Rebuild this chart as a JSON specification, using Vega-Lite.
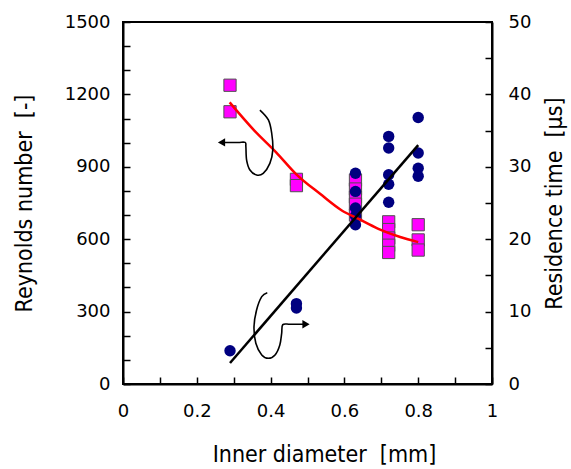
{
  "$schema": "https://vega.github.io/schema/vega-lite/v6.json",
  "width": 369,
  "height": 362,
  "autosize": {"type": "none"},
  "padding": {"left": 123, "top": 22, "right": 79, "bottom": 85},
  "background": "white",
  "config": {
    "font": "DejaVu Sans",
    "view": {"stroke": "black", "strokeWidth": 2},
    "axis": {
      "grid": false,
      "labelFlush": false,
      "domainColor": "black",
      "domainWidth": 2,
      "tickColor": "black",
      "tickWidth": 1.5,
      "tickSize": -7,
      "labelFont": "DejaVu Sans",
      "labelFontSize": 18,
      "labelColor": "black",
      "titleFont": "DejaVu Sans Condensed",
      "titleFontSize": 23,
      "titleFontWeight": "normal",
      "titleColor": "black"
    }
  },
  "datasets": {
    "re": [
      {"d": 0.29, "v": 1238}, {"d": 0.29, "v": 1128},
      {"d": 0.47, "v": 848}, {"d": 0.47, "v": 822},
      {"d": 0.63, "v": 845}, {"d": 0.63, "v": 808}, {"d": 0.63, "v": 775}, {"d": 0.63, "v": 745}, {"d": 0.63, "v": 700},
      {"d": 0.72, "v": 672}, {"d": 0.72, "v": 640}, {"d": 0.72, "v": 605}, {"d": 0.72, "v": 575}, {"d": 0.72, "v": 545},
      {"d": 0.80, "v": 660}, {"d": 0.80, "v": 597}, {"d": 0.80, "v": 555}
    ],
    "rt": [
      {"d": 0.29, "v": 4.6},
      {"d": 0.47, "v": 11.1}, {"d": 0.47, "v": 10.5},
      {"d": 0.63, "v": 29.1}, {"d": 0.63, "v": 26.6}, {"d": 0.63, "v": 24.3}, {"d": 0.63, "v": 23.2}, {"d": 0.63, "v": 22.0},
      {"d": 0.72, "v": 34.2}, {"d": 0.72, "v": 32.6}, {"d": 0.72, "v": 28.9}, {"d": 0.72, "v": 27.6}, {"d": 0.72, "v": 25.1},
      {"d": 0.80, "v": 36.8}, {"d": 0.80, "v": 31.9}, {"d": 0.80, "v": 29.8}, {"d": 0.80, "v": 28.7}
    ],
    "refit": [
      {"d": 0.289, "v": 1167}, {"d": 0.356, "v": 1050}, {"d": 0.415, "v": 960}, {"d": 0.469, "v": 870},
      {"d": 0.534, "v": 788}, {"d": 0.593, "v": 719}, {"d": 0.637, "v": 685}, {"d": 0.692, "v": 643},
      {"d": 0.751, "v": 609}, {"d": 0.800, "v": 588}
    ],
    "rtfit": [
      {"d": 0.29, "v": 2.9}, {"d": 0.80, "v": 33.0}
    ],
    "arrowL": [
      {"i": 0, "d": 0.371, "v": 1135}, {"i": 1, "d": 0.394, "v": 1094}, {"i": 2, "d": 0.403, "v": 1039},
      {"i": 3, "d": 0.406, "v": 970}, {"i": 4, "d": 0.398, "v": 914}, {"i": 5, "d": 0.380, "v": 873},
      {"i": 6, "d": 0.362, "v": 866}, {"i": 7, "d": 0.344, "v": 887}, {"i": 8, "d": 0.335, "v": 928},
      {"i": 9, "d": 0.333, "v": 983}, {"i": 10, "d": 0.331, "v": 1001}, {"i": 11, "d": 0.312, "v": 1001},
      {"i": 12, "d": 0.276, "v": 1001}
    ],
    "headL": [{"d": 0.267, "v": 1001}],
    "arrowR": [
      {"i": 0, "d": 0.391, "v": 12.61}, {"i": 1, "d": 0.376, "v": 12.06}, {"i": 2, "d": 0.362, "v": 10.22},
      {"i": 3, "d": 0.355, "v": 7.91}, {"i": 4, "d": 0.360, "v": 5.62}, {"i": 5, "d": 0.376, "v": 4.01},
      {"i": 6, "d": 0.394, "v": 3.55}, {"i": 7, "d": 0.412, "v": 4.01}, {"i": 8, "d": 0.425, "v": 5.39},
      {"i": 9, "d": 0.430, "v": 7.0}, {"i": 10, "d": 0.433, "v": 8.2}, {"i": 11, "d": 0.453, "v": 8.25},
      {"i": 12, "d": 0.489, "v": 8.25}
    ],
    "headR": [{"d": 0.496, "v": 8.25}]
  },
  "encoding": {
    "x": {
      "field": "d",
      "type": "quantitative",
      "scale": {"domain": [0, 1], "nice": false},
      "axis": {
        "values": [0, 0.1, 0.2, 0.3, 0.4, 0.5, 0.6, 0.7, 0.8, 0.9, 1],
        "labelExpr": "round(datum.value*10) % 2 == 0 ? format(datum.value, '~g') : ''",
        "labelPadding": 25,
        "title": "Inner diameter \u00a0[mm]",
        "titleX": 201,
        "titlePadding": 23
      }
    }
  },
  "layer": [
    {
      "data": {"name": "re"},
      "mark": {"type": "square", "filled": true, "color": "#ff00ff", "stroke": "#505050", "strokeWidth": 1, "size": 150, "opacity": 1},
      "encoding": {
        "y": {
          "field": "v", "type": "quantitative",
          "scale": {"domain": [0, 1500], "nice": false},
          "axis": {
            "orient": "left",
            "values": [0, 100, 200, 300, 400, 500, 600, 700, 800, 900, 1000, 1100, 1200, 1300, 1400, 1500],
            "labelExpr": "datum.value % 300 == 0 ? format(datum.value, 'd') : ''",
            "labelPadding": 20,
            "title": "Reynolds number \u00a0[-]",
            "titlePadding": 28
          }
        }
      }
    },
    {
      "data": {"name": "rt"},
      "mark": {"type": "circle", "color": "#000080", "size": 130, "opacity": 1},
      "encoding": {
        "y": {
          "field": "v", "type": "quantitative",
          "scale": {"domain": [0, 50], "nice": false},
          "axis": {
            "orient": "right",
            "values": [0, 5, 10, 15, 20, 25, 30, 35, 40, 45, 50],
            "labelExpr": "datum.value % 10 == 0 ? format(datum.value, 'd') : ''",
            "labelPadding": 23,
            "title": "Residence time \u00a0[\u00b5s]",
            "titleAngle": 270,
            "titleBaseline": "top",
            "titlePadding": 13
          }
        }
      }
    },
    {
      "data": {"name": "refit"},
      "mark": {"type": "line", "color": "#ff0000", "strokeWidth": 2.5, "interpolate": "monotone"},
      "encoding": {
        "y": {"field": "v", "type": "quantitative", "scale": {"domain": [0, 1500], "nice": false}, "axis": null}
      }
    },
    {
      "data": {"name": "rtfit"},
      "mark": {"type": "line", "color": "black", "strokeWidth": 2.5},
      "encoding": {
        "y": {"field": "v", "type": "quantitative", "scale": {"domain": [0, 50], "nice": false}, "axis": null}
      }
    },
    {
      "data": {"name": "arrowL"},
      "mark": {"type": "line", "color": "black", "strokeWidth": 1.6, "interpolate": "cardinal"},
      "encoding": {
        "order": {"field": "i", "type": "quantitative"},
        "y": {"field": "v", "type": "quantitative", "scale": {"domain": [0, 1500], "nice": false}, "axis": null}
      }
    },
    {
      "data": {"name": "headL"},
      "mark": {"type": "point", "shape": "triangle-left", "filled": true, "color": "black", "size": 70, "opacity": 1},
      "encoding": {
        "y": {"field": "v", "type": "quantitative", "scale": {"domain": [0, 1500], "nice": false}, "axis": null}
      }
    },
    {
      "data": {"name": "arrowR"},
      "mark": {"type": "line", "color": "black", "strokeWidth": 1.6, "interpolate": "cardinal"},
      "encoding": {
        "order": {"field": "i", "type": "quantitative"},
        "y": {"field": "v", "type": "quantitative", "scale": {"domain": [0, 50], "nice": false}, "axis": null}
      }
    },
    {
      "data": {"name": "headR"},
      "mark": {"type": "point", "shape": "triangle-right", "filled": true, "color": "black", "size": 70, "opacity": 1},
      "encoding": {
        "y": {"field": "v", "type": "quantitative", "scale": {"domain": [0, 50], "nice": false}, "axis": null}
      }
    }
  ],
  "resolve": {"scale": {"y": "independent"}}
}
